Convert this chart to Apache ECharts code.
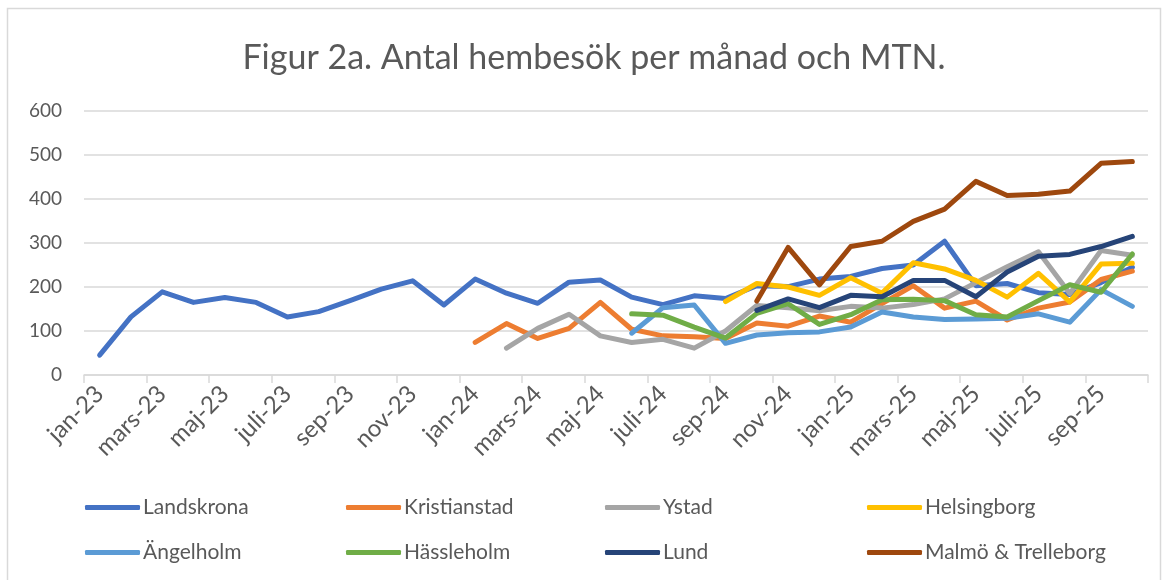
<!DOCTYPE html>
<html>
<head>
<meta charset="utf-8">
<script src="https://cdn.jsdelivr.net/npm/echarts@6/dist/echarts.min.js"></script>
<style>html,body{margin:0;padding:0;background:#fff;}#c{width:1169px;height:580px;}</style>
</head>
<body>
<div id="c"></div>
<script>
const months = ['jan-23','feb-23','mars-23','apr-23','maj-23','juni-23','juli-23','aug-23','sep-23','okt-23','nov-23','dec-23',
  'jan-24','feb-24','mars-24','apr-24','maj-24','juni-24','juli-24','aug-24','sep-24','okt-24','nov-24','dec-24',
  'jan-25','feb-25','mars-25','apr-25','maj-25','juni-25','juli-25','aug-25','sep-25','okt-25'];
const yTicks = [0,100,200,300,400,500,600];
const _ = null;
const landskrona = [45,132,189,165,176,165,132,144,169,195,214,159,218,186,163,211,216,177,160,180,174,203,201,218,224,242,250,304,203,208,187,183,210,245];
const kristianstad = [_,_,_,_,_,_,_,_,_,_,_,_,74,117,83,106,165,104,89,87,83,118,111,134,120,162,203,152,168,125,152,166,217,236];
const ystad = [_,_,_,_,_,_,_,_,_,_,_,_,_,61,106,138,89,74,81,61,100,158,153,146,156,152,160,173,210,246,280,185,283,272];
const helsingborg = [_,_,_,_,_,_,_,_,_,_,_,_,_,_,_,_,_,_,_,_,167,208,200,181,221,186,255,241,215,177,231,166,252,254];
const angelholm = [_,_,_,_,_,_,_,_,_,_,_,_,_,_,_,_,_,95,153,159,72,91,96,98,109,143,132,126,127,129,139,120,194,156];
const hassleholm = [_,_,_,_,_,_,_,_,_,_,_,_,_,_,_,_,_,139,136,109,84,140,162,115,137,171,172,169,137,132,169,205,188,275];
const lund = [_,_,_,_,_,_,_,_,_,_,_,_,_,_,_,_,_,_,_,_,_,147,173,153,181,178,215,215,178,234,270,274,292,315];
const malmo = [_,_,_,_,_,_,_,_,_,_,_,_,_,_,_,_,_,_,_,_,_,168,290,205,292,304,349,377,440,408,411,418,481,485];

const seriesDefs = [
  {name:'Landskrona', data:landskrona, color:'#4472C4'},
  {name:'Kristianstad', data:kristianstad, color:'#ED7D31'},
  {name:'Ystad', data:ystad, color:'#A5A5A5'},
  {name:'Helsingborg', data:helsingborg, color:'#FFC000'},
  {name:'Ängelholm', data:angelholm, color:'#5B9BD5'},
  {name:'Hässleholm', data:hassleholm, color:'#70AD47'},
  {name:'Lund', data:lund, color:'#264478'},
  {name:'Malmö & Trelleborg', data:malmo, color:'#9E480E'}
];
const FONT = 'Lato';
const TXT = '#595959';
const legendPos = [[80,492],[341,492],[600,492],[862,492],[80,537],[341,537],[600,537],[862,537]];

const chart = echarts.init(document.getElementById('c'), null, {renderer:'canvas'});
chart.setOption({
  animation:false,
  backgroundColor:'#fff',
  textStyle:{fontFamily:FONT},
  graphic:[
    {type:'rect', shape:{x:7.5,y:8.5,width:1153,height:600}, style:{fill:'none', stroke:'#d9d9d9', lineWidth:1.5}, silent:true},
    {type:'text', x:594, y:58, style:{text:'Figur 2a. Antal hembesök per månad och MTN.', fontFamily:FONT, fontSize:34, fill:TXT, align:'center', verticalAlign:'middle'}}
  ],
  grid:{left:84, right:21, top:111, bottom:205, containLabel:false, outerBoundsMode:'none'},
  xAxis:{
    type:'category', data:months, boundaryGap:true,
    axisLine:{lineStyle:{color:'#d9d9d9', width:1.5}},
    axisTick:{show:true, interval:1, length:8, lineStyle:{color:'#d9d9d9', width:1.5}},
    axisLabel:{interval:1, rotate:45, color:TXT, fontFamily:FONT, fontSize:24, margin:15, hideOverlap:false},
    splitLine:{show:false}
  },
  yAxis:{
    type:'value', min:0, max:600, interval:100,
    axisLine:{show:false}, axisTick:{show:false},
    axisLabel:{fontSize:19, color:TXT, fontFamily:FONT, margin:22},
    splitLine:{lineStyle:{color:'#d9d9d9', width:1.5}}
  },
  legend: seriesDefs.map((s,i)=>({
    data:[{name:s.name, icon:'roundRect'}], left:legendPos[i][0], top:legendPos[i][1], itemWidth:55, itemHeight:5, itemGap:0,
    textStyle:{fontSize:21, color:TXT, fontFamily:FONT, padding:[0,0,0,-2]}, selectedMode:false,
    itemStyle:{color:s.color}
  })),
  series: seriesDefs.map(s=>({
    name:s.name, type:'line', data:s.data, symbol:'none', showSymbol:false, connectNulls:false,
    color:s.color,
    lineStyle:{color:s.color, width:5, cap:'round', join:'round'},
    itemStyle:{color:s.color}
  }))
});
</script>
</body>
</html>
